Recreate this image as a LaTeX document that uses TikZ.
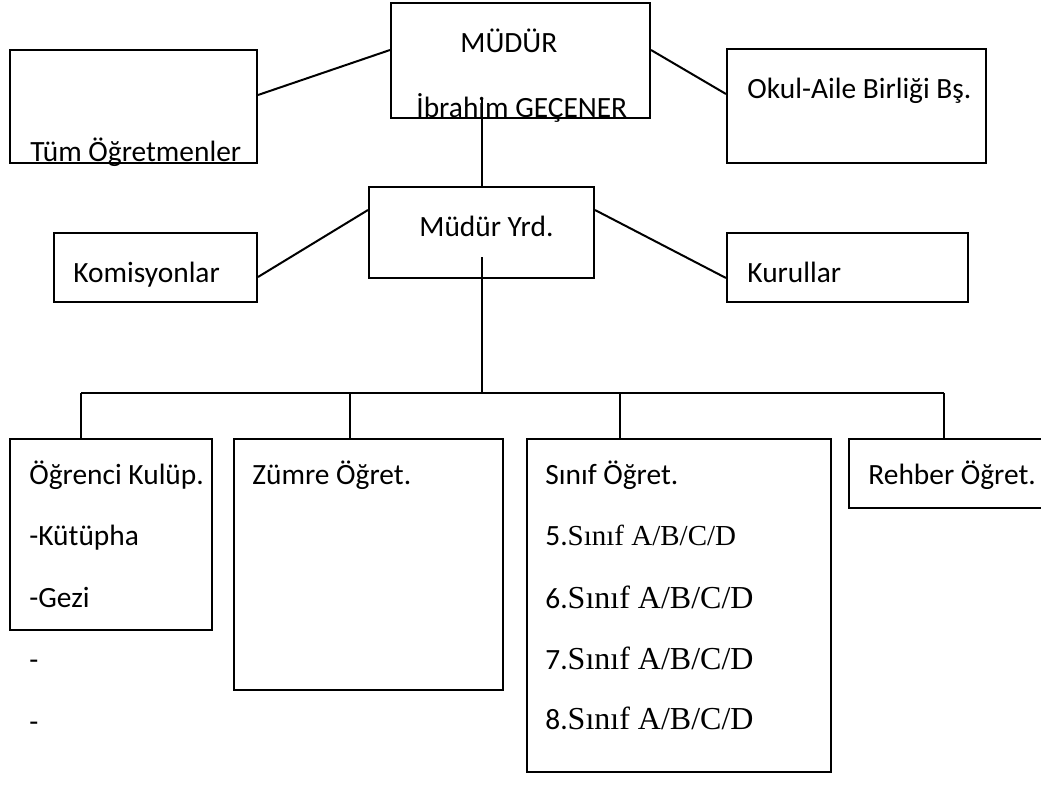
\documentclass[tikz,border=0pt]{standalone}
\usepackage{fontspec}
\setmainfont{Carlito}
\newfontfamily\sinifserif{Liberation Serif}

\tikzset{
  kutu/.style={draw,rectangle,line width=1pt,inner sep=0pt},
  yazi/.style={inner sep=0pt,anchor=base west,font=\fontsize{14.7pt}{17pt}\selectfont},
  cizgi/.style={line width=1pt}
}
\newcommand\snf[2]{{\fontsize{14.7pt}{17pt}\selectfont #1}{\sinifserif\fontsize{#2}{18pt}\selectfont Sınıf A/B/C/D}}

\begin{document}
\begin{tikzpicture}[x=0.5pt,y=-0.5pt]
\useasboundingbox (0,0) rectangle (1041,787);
%% top row
\node[kutu,minimum width=129.5pt,minimum height=57.5pt](mudur) at (520.5,60.5){};
\node[kutu,minimum width=123.5pt,minimum height=56.5pt](tum) at (133.5,106.5){};
\node[kutu,minimum width=129.5pt,minimum height=57pt](okul) at (856.5,106){};
\node[yazi](mudurT) at (460,53){MÜDÜR};
\node[yazi](ibrahim) at (416,118){İbrahim GEÇENER};
\node[yazi](tumT) at (30,162){Tüm Öğretmenler};
\node[yazi](okulT) at (747,98){Okul-Aile Birliği Bş.};
%% second row
\node[kutu,minimum width=112.5pt,minimum height=45.5pt](yrd) at (481.5,232.5){};
\node[kutu,minimum width=101.5pt,minimum height=34.5pt](komis) at (155.5,267.5){};
\node[kutu,minimum width=120.5pt,minimum height=34.5pt](kurul) at (847.5,267.5){};
\node[yazi](yrdT) at (419,236){Müdür Yrd.};
\node[yazi](komisT) at (73,282){Komisyonlar};
\node[yazi](kurulT) at (747,282){Kurullar};
%% bottom row
\node[kutu,minimum width=101pt,minimum height=95.5pt](kulup) at (111,534.5){};
\node[kutu,minimum width=134.5pt,minimum height=125.5pt](zumre) at (368.5,564.5){};
\node[kutu,minimum width=152pt,minimum height=166.5pt](sinif) at (679,605.5){};
\node[kutu,minimum width=98pt,minimum height=34.5pt](rehber) at (947,473.5){};
\node[yazi](kulupT) at (29,484){Öğrenci Kulüp.};
\node[yazi](kutup) at (29,545){-Kütüpha};
\node[yazi](gezi) at (29,607){-Gezi};
\node[yazi](tire1) at (29,669){-};
\node[yazi](tire2) at (29,731){-};
\node[yazi](zumreT) at (252,484){Zümre Öğret.};
\node[yazi](sinifT) at (545,484){Sınıf Öğret.};
\node[yazi](s5) at (545,545){\snf{5.}{14.5pt}};
\node[yazi](s6) at (545,608){\snf{6.}{16pt}};
\node[yazi](s7) at (545,669){\snf{7.}{16pt}};
\node[yazi](s8) at (545,729){\snf{8.}{16pt}};
\node[yazi](rehberT) at (868,484){Rehber Öğret.};
%% lines
\draw[cizgi]([yshift=5.25pt]mudur.west)--([yshift=5.75pt]tum.east);
\draw[cizgi]([yshift=5.25pt]mudur.east)--([yshift=6pt]okul.west);
\draw[cizgi](yrd.north)--([yshift=10.5pt]yrd.north |- mudur.south);
\draw[cizgi]([yshift=11.25pt]yrd.west)--([yshift=-4.75pt]komis.east);
\draw[cizgi]([yshift=11.25pt]yrd.east)--([yshift=-5.25pt]kurul.west);
\coordinate (bus) at (481.5,393);
\draw[cizgi]([yshift=11pt]yrd.south)--(bus);
\draw[cizgi]([xshift=-15pt]kulup.north |- bus)--([xshift=-1.5pt]rehber.north |- bus);
\draw[cizgi]([xshift=-15pt]kulup.north)--([xshift=-15pt]kulup.north |- bus);
\draw[cizgi]([xshift=-9.25pt]zumre.north)--([xshift=-9.25pt]zumre.north |- bus);
\draw[cizgi]([xshift=-29.5pt]sinif.north)--([xshift=-29.5pt]sinif.north |- bus);
\draw[cizgi]([xshift=-1.5pt]rehber.north)--([xshift=-1.5pt]rehber.north |- bus);
\end{tikzpicture}
\end{document}
